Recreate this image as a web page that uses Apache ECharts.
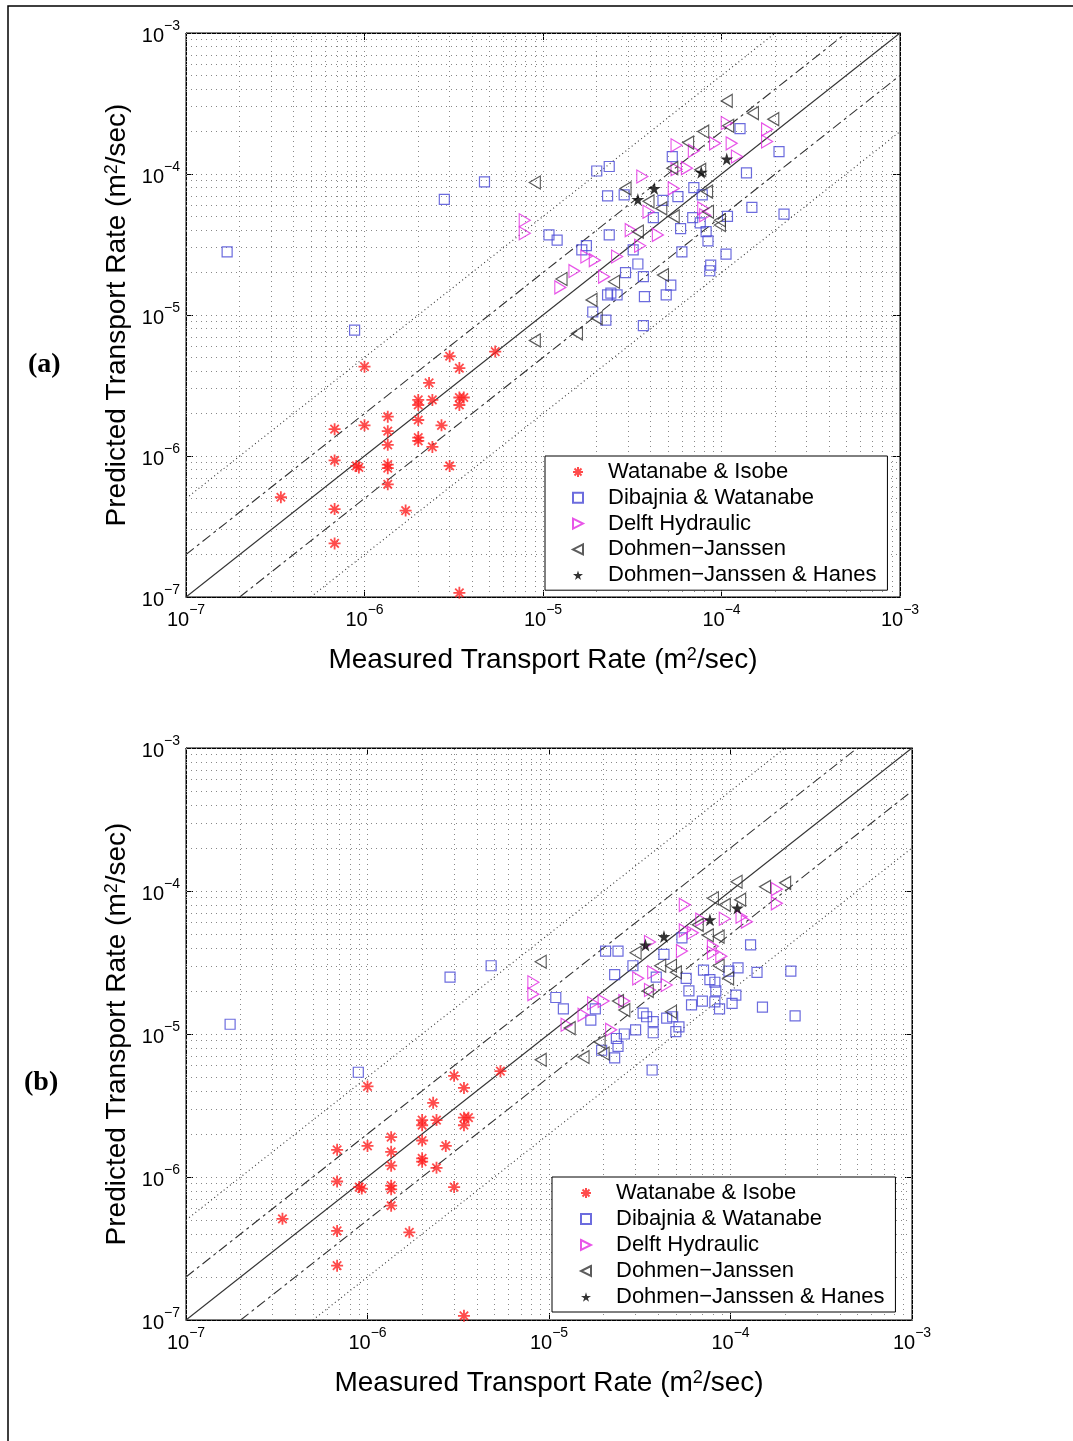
<!DOCTYPE html>
<html>
<head>
<meta charset="utf-8">
<title>Predicted vs measured transport rate</title>
<script src="https://cdn.jsdelivr.net/npm/echarts@6/dist/echarts.min.js"></script>
<style>
  html, body { margin: 0; padding: 0; background: #fff; }
  #main { width: 1073px; height: 1441px; }
</style>
</head>
<body>
<div id="main"></div>
<script>
// tick label exponents (10^-7 ... 10^-3), same on both axes
var tickExps = ['\u22127', '\u22126', '\u22125', '\u22124', '\u22123'];
var gridMults = [1, 2, 3, 4, 5, 6, 7, 8, 9];
var gridDecades = [1e-7, 1e-6, 1e-5, 1e-4];

var seriesNames = ['Watanabe & Isobe', 'Dibajnia & Watanabe', 'Delft Hydraulic',
    'Dohmen\u2212Janssen', 'Dohmen\u2212Janssen & Hanes'];

// reference lines: perfect agreement, factor 2, factor 5
var lineExact = [[1e-7, 1e-7], [1e-3, 1e-3]];
var lineTwoUp = [[1e-7, 2e-7], [5e-4, 1e-3]];
var lineTwoDown = [[2e-7, 1e-7], [1e-3, 5e-4]];
var lineFiveUp = [[1e-7, 5e-7], [2e-4, 1e-3]];
var lineFiveDown = [[5e-7, 1e-7], [1e-3, 2e-4]];

// Watanabe & Isobe (identical in both panels)  [measured, predicted]
var watanabeIsobe = [
    [1.0e-6, 4.3e-6], [3.0e-6, 5.1e-6], [3.4e-6, 4.2e-6], [5.4e-6, 5.5e-6], [2.3e-6, 3.3e-6],
    [2.0e-6, 2.5e-6], [2.0e-6, 2.3e-6], [2.4e-6, 2.5e-6], [3.4e-6, 2.6e-6], [3.6e-6, 2.6e-6],
    [3.4e-6, 2.3e-6], [1.35e-6, 1.9e-6], [6.8e-7, 1.55e-6], [1.0e-6, 1.65e-6], [1.35e-6, 1.5e-6],
    [2.0e-6, 1.8e-6], [2.7e-6, 1.65e-6], [1.35e-6, 1.2e-6], [2.0e-6, 1.35e-6], [2.0e-6, 1.28e-6],
    [2.4e-6, 1.16e-6], [6.8e-7, 9.3e-7], [9.3e-7, 8.3e-7], [9.0e-7, 8.5e-7], [1.35e-6, 8.7e-7],
    [1.35e-6, 8.2e-7], [3.0e-6, 8.5e-7], [1.35e-6, 6.3e-7], [3.4e-7, 5.1e-7], [6.8e-7, 4.2e-7],
    [1.7e-6, 4.1e-7], [6.8e-7, 2.4e-7], [3.4e-6, 1.07e-7]
];

// panel (a)
var dibajniaA = [
    [1.7e-7, 2.8e-5], [2.8e-6, 6.6e-5], [4.7e-6, 8.8e-5], [8.8e-7, 7.8e-6], [1.27e-4, 2.1e-4],
    [2.1e-4, 1.44e-4], [5.3e-5, 1.33e-4], [2.0e-5, 1.05e-4], [2.35e-5, 1.13e-4], [1.38e-4, 1.02e-4],
    [7.0e-5, 8.0e-5], [2.3e-5, 7.0e-5], [2.85e-5, 7.1e-5], [4.7e-5, 6.5e-5], [5.7e-5, 6.9e-5],
    [7.8e-5, 7.1e-5], [1.48e-4, 5.8e-5], [2.24e-4, 5.2e-5], [4.15e-5, 4.9e-5], [6.9e-5, 4.9e-5],
    [1.08e-4, 5.0e-5], [5.9e-5, 4.1e-5], [7.6e-5, 4.5e-5], [8.2e-5, 3.9e-5], [2.35e-5, 3.7e-5],
    [1.08e-5, 3.7e-5], [1.2e-5, 3.4e-5], [1.75e-5, 3.1e-5], [8.4e-5, 3.35e-5], [6.0e-5, 2.8e-5],
    [3.2e-5, 2.9e-5], [1.65e-5, 2.9e-5], [1.06e-4, 2.7e-5], [8.7e-5, 2.26e-5], [8.6e-5, 2.06e-5],
    [3.4e-5, 2.3e-5], [2.9e-5, 2.0e-5], [3.65e-5, 1.87e-5], [5.2e-5, 1.63e-5], [2.3e-5, 1.39e-5],
    [2.6e-5, 1.39e-5], [3.7e-5, 1.35e-5], [4.9e-5, 1.39e-5], [1.9e-5, 1.05e-5], [2.25e-5, 9.2e-6],
    [3.65e-5, 8.4e-6], [2.4e-5, 1.43e-5]
];
var delftA = [
    [1.07e-4, 2.3e-4], [1.8e-4, 2.07e-4], [1.8e-4, 1.7e-4], [1.14e-4, 1.65e-4], [9.2e-5, 1.65e-4],
    [5.6e-5, 1.6e-4], [7.0e-5, 1.46e-4], [1.22e-4, 1.33e-4], [5.6e-5, 1.08e-4], [6.4e-5, 1.1e-4],
    [3.6e-5, 9.6e-5], [5.4e-5, 7.9e-5], [3.9e-5, 5.4e-5], [7.9e-5, 5.7e-5], [8.1e-5, 5.1e-5],
    [3.1e-5, 4.0e-5], [4.4e-5, 3.7e-5], [3.5e-5, 3.1e-5], [1.75e-5, 2.6e-5], [1.95e-5, 2.45e-5],
    [2.6e-5, 2.6e-5], [1.5e-5, 2.05e-5], [2.2e-5, 1.87e-5], [1.25e-5, 1.57e-5], [7.9e-6, 4.7e-5],
    [7.9e-6, 3.8e-5]
];
var dohmenA = [
    [1.07e-4, 3.3e-4], [1.5e-4, 2.7e-4], [1.95e-4, 2.45e-4], [1.09e-4, 2.2e-4], [7.9e-5, 2.0e-4],
    [6.5e-5, 1.67e-4], [5.3e-5, 1.1e-4], [7.6e-5, 1.07e-4], [2.9e-5, 7.9e-5], [3.9e-5, 6.4e-5],
    [4.6e-5, 5.7e-5], [8.3e-5, 7.5e-5], [5.4e-5, 5.0e-5], [8.4e-5, 5.4e-5], [9.8e-5, 4.7e-5],
    [9.8e-5, 4.35e-5], [3.4e-5, 3.9e-5], [1.27e-5, 1.8e-5], [2.5e-5, 1.72e-5], [4.7e-5, 1.92e-5],
    [1.87e-5, 1.28e-5], [2.0e-5, 9.5e-6], [1.55e-5, 7.4e-6], [9.0e-6, 8.7e-5], [9.0e-6, 6.6e-6]
];
var hanesA = [[1.07e-4, 1.28e-4], [7.7e-5, 1.03e-4], [4.2e-5, 7.9e-5], [3.4e-5, 6.6e-5]];

// panel (b)
var dibajniaB = [
    [1.75e-7, 1.17e-5], [2.85e-6, 2.5e-5], [4.8e-6, 3.0e-5], [8.9e-7, 5.4e-6], [1.09e-5, 1.8e-5],
    [1.2e-5, 1.5e-5], [2.4e-5, 3.8e-5], [2.05e-5, 3.8e-5], [1.29e-4, 4.2e-5], [2.9e-5, 3.0e-5],
    [4.3e-5, 3.6e-5], [5.4e-5, 4.7e-5], [2.3e-5, 2.6e-5], [3.9e-5, 2.5e-5], [7.1e-5, 2.8e-5],
    [7.7e-5, 2.4e-5], [8.2e-5, 2.3e-5], [1.1e-4, 2.9e-5], [1.4e-4, 2.7e-5], [2.15e-4, 2.75e-5],
    [9.8e-5, 2.75e-5], [5.7e-5, 2.45e-5], [5.9e-5, 2.0e-5], [8.3e-5, 2.0e-5], [1.07e-4, 1.87e-5],
    [1.7e-5, 1.25e-5], [1.8e-5, 1.5e-5], [3.3e-5, 1.4e-5], [3.45e-5, 1.32e-5], [3.75e-5, 1.22e-5],
    [4.45e-5, 1.29e-5], [4.8e-5, 1.32e-5], [5.2e-5, 1.12e-5], [5.0e-5, 1.04e-5], [6.1e-5, 1.6e-5],
    [7.0e-5, 1.7e-5], [8.2e-5, 1.68e-5], [8.7e-5, 1.5e-5], [1.02e-4, 1.64e-5], [1.5e-4, 1.54e-5],
    [2.27e-4, 1.34e-5], [2.35e-5, 9.3e-6], [2.6e-5, 1.0e-5], [3.0e-5, 1.07e-5], [2.4e-5, 8.2e-6],
    [3.75e-5, 1.02e-5], [2.3e-5, 6.8e-6], [1.95e-5, 7.7e-6], [3.7e-5, 5.6e-6]
];
var delftB = [
    [1.8e-4, 1.03e-4], [1.8e-4, 8.2e-5], [5.6e-5, 8.0e-5], [9.3e-5, 6.4e-5], [1.15e-4, 6.6e-5],
    [1.23e-4, 6.1e-5], [5.6e-5, 5.3e-5], [6.9e-5, 6.3e-5], [6.2e-5, 5.1e-5], [8.0e-5, 4.1e-5],
    [8.0e-5, 3.7e-5], [8.9e-5, 3.5e-5], [3.6e-5, 4.4e-5], [5.4e-5, 3.8e-5], [3.75e-5, 2.7e-5],
    [3.1e-5, 2.45e-5], [4.45e-5, 2.2e-5], [3.6e-5, 2.03e-5], [2.0e-5, 1.7e-5], [1.75e-5, 1.64e-5],
    [2.6e-5, 1.7e-5], [1.55e-5, 1.36e-5], [1.25e-5, 1.16e-5], [2.2e-5, 1.07e-5], [8.2e-6, 2.3e-5],
    [8.2e-6, 1.9e-5]
];
var dohmenB = [
    [1.08e-4, 1.16e-4], [1.55e-4, 1.07e-4], [2.0e-4, 1.14e-4], [8.0e-5, 8.9e-5], [9.3e-5, 8.0e-5],
    [1.13e-4, 8.7e-5], [6.6e-5, 5.8e-5], [7.5e-5, 4.9e-5], [8.6e-5, 4.8e-5], [3.0e-5, 3.7e-5],
    [4.1e-5, 3.0e-5], [4.7e-5, 3.0e-5], [5.0e-5, 2.7e-5], [8.6e-5, 3.0e-5], [9.7e-5, 2.45e-5],
    [3.5e-5, 2.0e-5], [2.4e-5, 1.7e-5], [2.6e-5, 1.47e-5], [4.7e-5, 1.43e-5], [1.3e-5, 1.1e-5],
    [1.9e-5, 8.8e-6], [1.55e-5, 6.9e-6], [2.0e-5, 7.3e-6], [9.0e-6, 3.2e-5], [9.0e-6, 6.6e-6]
];
var hanesB = [[3.4e-5, 4.2e-5], [4.3e-5, 4.8e-5], [7.7e-5, 6.3e-5], [1.09e-4, 7.6e-5]];

var FONT = '"Liberation Sans", Arial, Helvetica, sans-serif';
var ASTERISK = 'path://M5,0L5,10M0,5L10,5M1.5,1.5L8.5,8.5M1.5,8.5L8.5,1.5';
var STAR = 'path://M50,0L61,35L98,35L68,57L79,91L50,70L21,91L32,57L2,35L39,35Z';
var TRI_RIGHT = 'path://M0,0L10,5L0,10Z';
var TRI_LEFT = 'path://M10,0L0,5L10,10Z';

var labelRich = {
    b: { fontSize: 20, fontFamily: FONT, color: '#000', verticalAlign: 'bottom', lineHeight: 27 },
    s: { fontSize: 14, fontFamily: FONT, color: '#000', verticalAlign: 'top', lineHeight: 14 }
};
var nameRich = {
    s: { fontSize: 18, fontFamily: FONT, color: '#000', verticalAlign: 'top', lineHeight: 18 }
};

function extend(out) {
    for (var i = 1; i < arguments.length; i++) {
        for (var k in arguments[i]) out[k] = arguments[i][k];
    }
    return out;
}

// dotted grid at every decade and its 2..9 subdivisions
var gridVals = [];
gridDecades.forEach(function (d) {
    gridMults.forEach(function (m) { gridVals.push(m * d); });
});
gridVals.push(1e-3);

function gridSegments() {
    var segs = [];
    gridVals.forEach(function (v) {
        segs.push({ coords: [[v, 1e-7], [v, 1e-3]] });
        segs.push({ coords: [[1e-7, v], [1e-3, v]] });
    });
    return segs;
}

function makeAxis(gi, isX, withLabels) {
    var ax = {
        type: 'log', logBase: 10, gridIndex: gi, min: 1e-7, max: 1e-3,
        axisLine: { show: true, onZero: false, lineStyle: { color: '#000', width: 1 } },
        axisTick: { show: true, inside: true, length: 7, lineStyle: { color: '#000' } },
        splitLine: { show: false },
        axisLabel: { show: false }
    };
    if (isX) ax.position = withLabels ? 'bottom' : 'top';
    else ax.position = withLabels ? 'left' : 'right';
    if (withLabels) {
        ax.axisLabel = {
            show: true, margin: 6, showMinLabel: true, showMaxLabel: true,
            formatter: function (v) {
                var e = Math.round(Math.log(v) / Math.LN10);
                return '{b|10}{s|' + tickExps[e + 7] + '}';
            },
            rich: labelRich
        };
        ax.name = isX ? 'Measured Transport Rate (m{s|2}/sec)' : 'Predicted Transport Rate (m{s|2}/sec)';
        ax.nameLocation = 'middle';
        ax.nameGap = isX ? 49 : 55;
        ax.nameMoveOverlap = false;
        ax.nameTextStyle = { fontSize: 28, fontFamily: FONT, color: '#000', rich: nameRich };
    }
    return ax;
}

function refLine(idx, data, type) {
    return {
        type: 'line', xAxisIndex: idx, yAxisIndex: idx, data: data,
        symbol: 'none', silent: true, animation: false, z: 3,
        lineStyle: { color: '#333', width: 1.1, type: type }
    };
}

function panelSeries(idx, dib, delft, dohmen, hanes) {
    var ai = idx * 2;
    var ax = { xAxisIndex: ai, yAxisIndex: ai };
    var list = [
        {
            type: 'lines', coordinateSystem: 'cartesian2d', xAxisIndex: ai, yAxisIndex: ai,
            silent: true, animation: false, z: 1, polyline: false,
            lineStyle: { color: '#888', width: 1, type: [1, 4], opacity: 1 },
            data: gridSegments()
        },
        refLine(ai, lineExact, 'solid'),
        refLine(ai, lineTwoUp, [10, 4, 3, 4]),
        refLine(ai, lineTwoDown, [10, 4, 3, 4]),
        refLine(ai, lineFiveUp, [1, 3]),
        refLine(ai, lineFiveDown, [1, 3])
    ];
    var common = { type: 'scatter', animation: false, z: 5 };
    list.push(extend({}, common, ax, {
        name: seriesNames[0], data: watanabeIsobe, symbol: ASTERISK, symbolSize: 12,
        itemStyle: { color: '#ff1f1f', borderColor: '#ff1f1f', borderWidth: 1.8 }
    }));
    list.push(extend({}, common, ax, {
        name: seriesNames[1], data: dib, symbol: 'rect', symbolSize: 10,
        itemStyle: { color: 'rgba(0,0,0,0)', borderColor: '#4747d6', borderWidth: 1.2 }
    }));
    list.push(extend({}, common, ax, {
        name: seriesNames[2], data: delft, symbol: TRI_RIGHT, symbolSize: [11, 13],
        itemStyle: { color: 'rgba(0,0,0,0)', borderColor: '#e22be2', borderWidth: 1.2 }
    }));
    list.push(extend({}, common, ax, {
        name: seriesNames[3], data: dohmen, symbol: TRI_LEFT, symbolSize: [11, 13],
        itemStyle: { color: 'rgba(0,0,0,0)', borderColor: '#333', borderWidth: 1.2 }
    }));
    list.push(extend({}, common, ax, {
        name: seriesNames[4], data: hanes, symbol: STAR, symbolSize: 13,
        itemStyle: { color: '#000' }
    }));
    return list;
}

function legendFor(left, top, gap, padLeft) {
    return {
        data: seriesNames, orient: 'vertical', left: left, top: top,
        padding: [5, 11, 4, padLeft], itemGap: gap, itemWidth: 10, itemHeight: 10,
        borderColor: '#000', borderWidth: 1, backgroundColor: '#fff', z: 10,
        selectedMode: false,
        textStyle: { fontSize: 22, fontFamily: FONT, color: '#000', lineHeight: 22, padding: [0, 0, 0, 20] }
    };
}

var option = {
    backgroundColor: '#fff',
    animation: false,
    grid: [
        { left: 186, top: 33, width: 714, height: 564, show: true, borderColor: '#000', borderWidth: 1 },
        { left: 186, top: 748, width: 726, height: 572, show: true, borderColor: '#000', borderWidth: 1 }
    ],
    xAxis: [makeAxis(0, true, true), makeAxis(0, true, false), makeAxis(1, true, true), makeAxis(1, true, false)],
    yAxis: [makeAxis(0, false, true), makeAxis(0, false, false), makeAxis(1, false, true), makeAxis(1, false, false)],
    legend: [legendFor(545, 456, 3.8, 27), legendFor(552, 1177, 4, 28)],
    series: panelSeries(0, dibajniaA, delftA, dohmenA, hanesA)
        .concat(panelSeries(1, dibajniaB, delftB, dohmenB, hanesB)),
    graphic: [
        { type: 'rect', silent: true, shape: { x: 8, y: 6, width: 1090, height: 1460 },
          style: { fill: 'none', stroke: '#000', lineWidth: 1.5 } },
        { type: 'text', left: 28, top: 351, silent: true,
          style: { text: '(a)', font: 'bold 28px "Liberation Serif", "DejaVu Serif", serif', fill: '#000' } },
        { type: 'text', left: 24, top: 1069, silent: true,
          style: { text: '(b)', font: 'bold 28px "Liberation Serif", "DejaVu Serif", serif', fill: '#000' } }
    ]
};

var myChart = echarts.init(document.getElementById('main'), null, { renderer: 'canvas' });
myChart.setOption(option);
</script>
</body>
</html>
